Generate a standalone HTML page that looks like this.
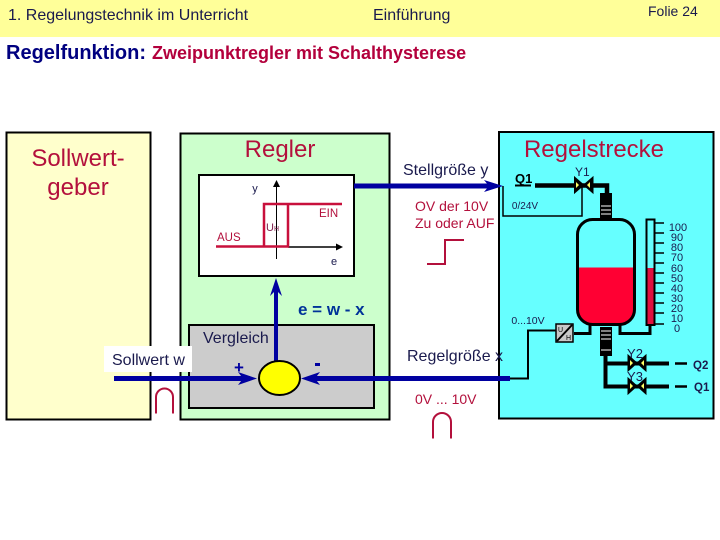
<!DOCTYPE html>
<html lang="de"><head><meta charset="utf-8"><title>Regelfunktion</title>
<style>html,body{margin:0;padding:0;background:#fff}svg{display:block}text{font-family:"Liberation Sans",sans-serif}</style></head>
<body>
<svg width="720" height="540" viewBox="0 0 720 540" xmlns="http://www.w3.org/2000/svg">
<rect width="720" height="540" fill="#fff"/>
<rect width="720" height="37" fill="#ffff99"/>
<text x="8" y="20" font-size="16" fill="#1a1a4d">1. Regelungstechnik im Unterricht</text>
<text x="373" y="20" font-size="16" fill="#1a1a4d">Einführung</text>
<text x="648" y="16" font-size="14" fill="#1a1a4d">Folie 24</text>
<text x="6" y="59" font-size="20" font-weight="bold" fill="#000080">Regelfunktion:</text>
<text x="152" y="59" font-size="18" font-weight="bold" fill="#b3003c">Zweipunktregler mit Schalthysterese</text>

<rect x="6.500" y="132.500" width="144" height="287" fill="#ffffcc" stroke="#000" stroke-width="2"/>
<rect x="180.500" y="133.500" width="209" height="286" fill="#ccffcc" stroke="#000" stroke-width="2"/>
<rect x="499" y="132" width="214.500" height="286.500" fill="#66ffff" stroke="#000" stroke-width="2"/>

<text x="78" y="166" font-size="24" fill="#b3103c" text-anchor="middle">Sollwert-</text>
<text x="78" y="195" font-size="24" fill="#b3103c" text-anchor="middle">geber</text>
<text x="280" y="157" font-size="24" fill="#b3103c" text-anchor="middle">Regler</text>
<text x="594" y="157" font-size="24" fill="#b3103c" text-anchor="middle">Regelstrecke</text>

<!-- plot -->
<rect x="199" y="175" width="155" height="101" fill="#fff" stroke="#000" stroke-width="2"/>
<line x1="276.500" y1="186" x2="276.500" y2="259" stroke="#000" stroke-width="1"/>
<polygon points="276.500,180 273,187 280,187" fill="#000"/>
<line x1="288" y1="247" x2="338" y2="247" stroke="#000" stroke-width="1.500"/>
<polygon points="343,247 336,243.500 336,250.500" fill="#000"/>
<path d="M216 246.500H288V204H264V246.500M264 204H342" fill="none" stroke="#c8103c" stroke-width="2.500"/>
<text x="255" y="192" font-size="11" fill="#1a1a4d" text-anchor="middle">y</text>
<text x="319" y="217" font-size="11.500" fill="#b3103c">EIN</text>
<text x="217" y="241" font-size="11.500" fill="#b3103c">AUS</text>
<text x="266" y="231" font-size="11" fill="#80204d">U<tspan font-size="7">H</tspan></text>
<text x="334" y="265" font-size="11" fill="#1a1a4d" text-anchor="middle">e</text>

<!-- comparator -->
<rect x="189" y="325" width="185" height="83" fill="#cccccc" stroke="#000" stroke-width="2"/>
<text x="203" y="343" font-size="16" fill="#1a1a4d">Vergleich</text>
<rect x="104" y="346" width="88" height="26" fill="#fff"/>
<text x="112" y="365" font-size="16" fill="#1a1a4d">Sollwert w</text>
<text x="298" y="315" font-size="17" font-weight="bold" fill="#003399">e = w - x</text>
<line x1="276" y1="361" x2="276" y2="284" stroke="#0000a0" stroke-width="4"/>
<polygon points="276,278 270,296 276,290 282,296" fill="#0000a0"/>
<line x1="114" y1="378.500" x2="250" y2="378.500" stroke="#0000a0" stroke-width="5"/>
<polygon points="257,378.500 238,372 243,378.500 238,385" fill="#0000a0"/>
<line x1="312" y1="378.500" x2="510" y2="378.500" stroke="#0000a0" stroke-width="5"/>
<polygon points="301,378.500 320,372 315,378.500 320,385" fill="#0000a0"/>
<ellipse cx="279.500" cy="378" rx="20.500" ry="17" fill="#ffff00" stroke="#000" stroke-width="2"/>
<text x="239" y="373" font-size="17" font-weight="bold" fill="#0000a0" text-anchor="middle">+</text>
<rect x="315" y="363" width="5" height="3" fill="#0000a0"/>
<path d="M156 413.500V397a8.500 8.500 0 0 1 17 0V413.500" fill="none" stroke="#b3103c" stroke-width="2"/>
<path d="M433 438.500V422a9 9 0 0 1 18 0V438.500" fill="none" stroke="#b3103c" stroke-width="2"/>

<!-- signal labels -->
<text x="403" y="175" font-size="16" fill="#1a1a4d">Stellgröße y</text>
<line x1="354" y1="186" x2="495" y2="186" stroke="#0000a0" stroke-width="5"/>
<polygon points="503,186 484,180 489,186 484,192" fill="#0000a0"/>
<text x="415" y="211" font-size="14" fill="#b3103c">OV der 10V</text>
<text x="415" y="228" font-size="14" fill="#b3103c">Zu oder AUF</text>
<path d="M427 264H445V240H464" fill="none" stroke="#b3103c" stroke-width="2"/>
<text x="407" y="361" font-size="16" fill="#1a1a4d">Regelgröße x</text>
<text x="415" y="404" font-size="14" fill="#b3103c">0V ... 10V</text>

<!-- process -->
<text x="515" y="183" font-size="13" font-weight="bold" fill="#000">Q1</text>
<path d="M515 185.500H531" stroke="#000" stroke-width="2"/>
<text x="575" y="176" font-size="12" fill="#1a1a4d">Y1</text>
<text x="525" y="209" font-size="10" fill="#1a1a4d" text-anchor="middle">0/24V</text>
<path d="M503 186V216H582V186" fill="none" stroke="#000" stroke-width="1.500"/>
<path d="M535 185.500H607V195" fill="none" stroke="#000" stroke-width="4.500"/>
<path d="M574.500 177L593 193V177L574.500 193Z" fill="#000" stroke="#000" stroke-width="1"/>
<path d="M576 182l3 3-3 3zM590 182l-3 3 3 3z" fill="#ffff66"/>
<rect x="600" y="193" width="12" height="26" fill="#000"/>
<path d="M601 206H611M601 210H611M601 214H611" stroke="#fff" stroke-width="1"/>

<!-- tank -->
<rect x="577.500" y="219.500" width="57" height="105" rx="15" fill="#66ffff"/>
<path d="M577.500 267.500H634.500V309.500a15 15 0 0 1-15 15H592.500a15 15 0 0 1-15-15Z" fill="#ff0033"/>
<rect x="577.500" y="219.500" width="57" height="105" rx="15" fill="none" stroke="#000" stroke-width="3"/>

<!-- gauge -->
<rect x="646.500" y="219.500" width="8" height="105.500" fill="#66ffff"/>
<rect x="647" y="268" width="7.500" height="57" fill="#e01040"/>
<rect x="646.500" y="219.500" width="8" height="105.500" fill="none" stroke="#000" stroke-width="2"/>
<path d="M655 223H664M655 233H664M655 243H664M655 253H664M655 263H664M655 273H664M655 283H664M655 293H664M655 303H664M655 313H664M655 324H664" stroke="#000" stroke-width="1.500"/>
<g font-size="11" fill="#1a1a4d" text-anchor="middle">
<text x="678" y="231">100</text><text x="677" y="241">90</text><text x="677" y="251">80</text><text x="677" y="261">70</text><text x="677" y="272">60</text><text x="677" y="282">50</text><text x="677" y="292">40</text><text x="677" y="302">30</text><text x="677" y="312">20</text><text x="677" y="322">10</text><text x="677" y="332">0</text>
</g>

<!-- bottom piping -->
<path d="M574 333.500H590V325M620 325V333.500H650V325" fill="none" stroke="#000" stroke-width="3"/>
<rect x="600" y="327" width="12" height="29" fill="#000"/>
<path d="M601 331H611M601 335H611M601 339H611M601 350H611" stroke="#fff" stroke-width="1"/>
<path d="M605.500 355V386.500H669M605.500 363.500H669" fill="none" stroke="#000" stroke-width="4"/>
<path d="M628 355L646 371V355L628 371Z" fill="#000" stroke="#000" stroke-width="1"/>
<path d="M628 378L646 394V378L628 394Z" fill="#000" stroke="#000" stroke-width="1"/>
<path d="M630 360l3 3-3 3zM644 360l-3 3 3 3zM630 383l3 3-3 3zM644 383l-3 3 3 3z" fill="#ffff66"/>
<text x="635" y="358" font-size="13" fill="#1a1a4d" text-anchor="middle">Y2</text>
<text x="635" y="381" font-size="13" fill="#1a1a4d" text-anchor="middle">Y3</text>
<path d="M675 363.500H687M675 386.500H687" stroke="#000" stroke-width="2.500"/>
<text x="693" y="369" font-size="11.500" font-weight="bold" fill="#1a1a4d">Q2</text>
<text x="694" y="391" font-size="11.500" font-weight="bold" fill="#1a1a4d">Q1</text>

<!-- converter -->
<path d="M510 378.500H528V330.500H556" fill="none" stroke="#000" stroke-width="2"/>
<rect x="556" y="324" width="17" height="18" fill="#c8c8c8" stroke="#000" stroke-width="1.500"/>
<path d="M557 341L572 325" stroke="#000" stroke-width="2"/>
<text x="558" y="332" font-size="7" fill="#000">U</text>
<text x="566" y="340" font-size="7" fill="#000">H</text>
<text x="528" y="324" font-size="10.500" fill="#1a1a4d" text-anchor="middle">0...10V</text>
</svg>
</body></html>
